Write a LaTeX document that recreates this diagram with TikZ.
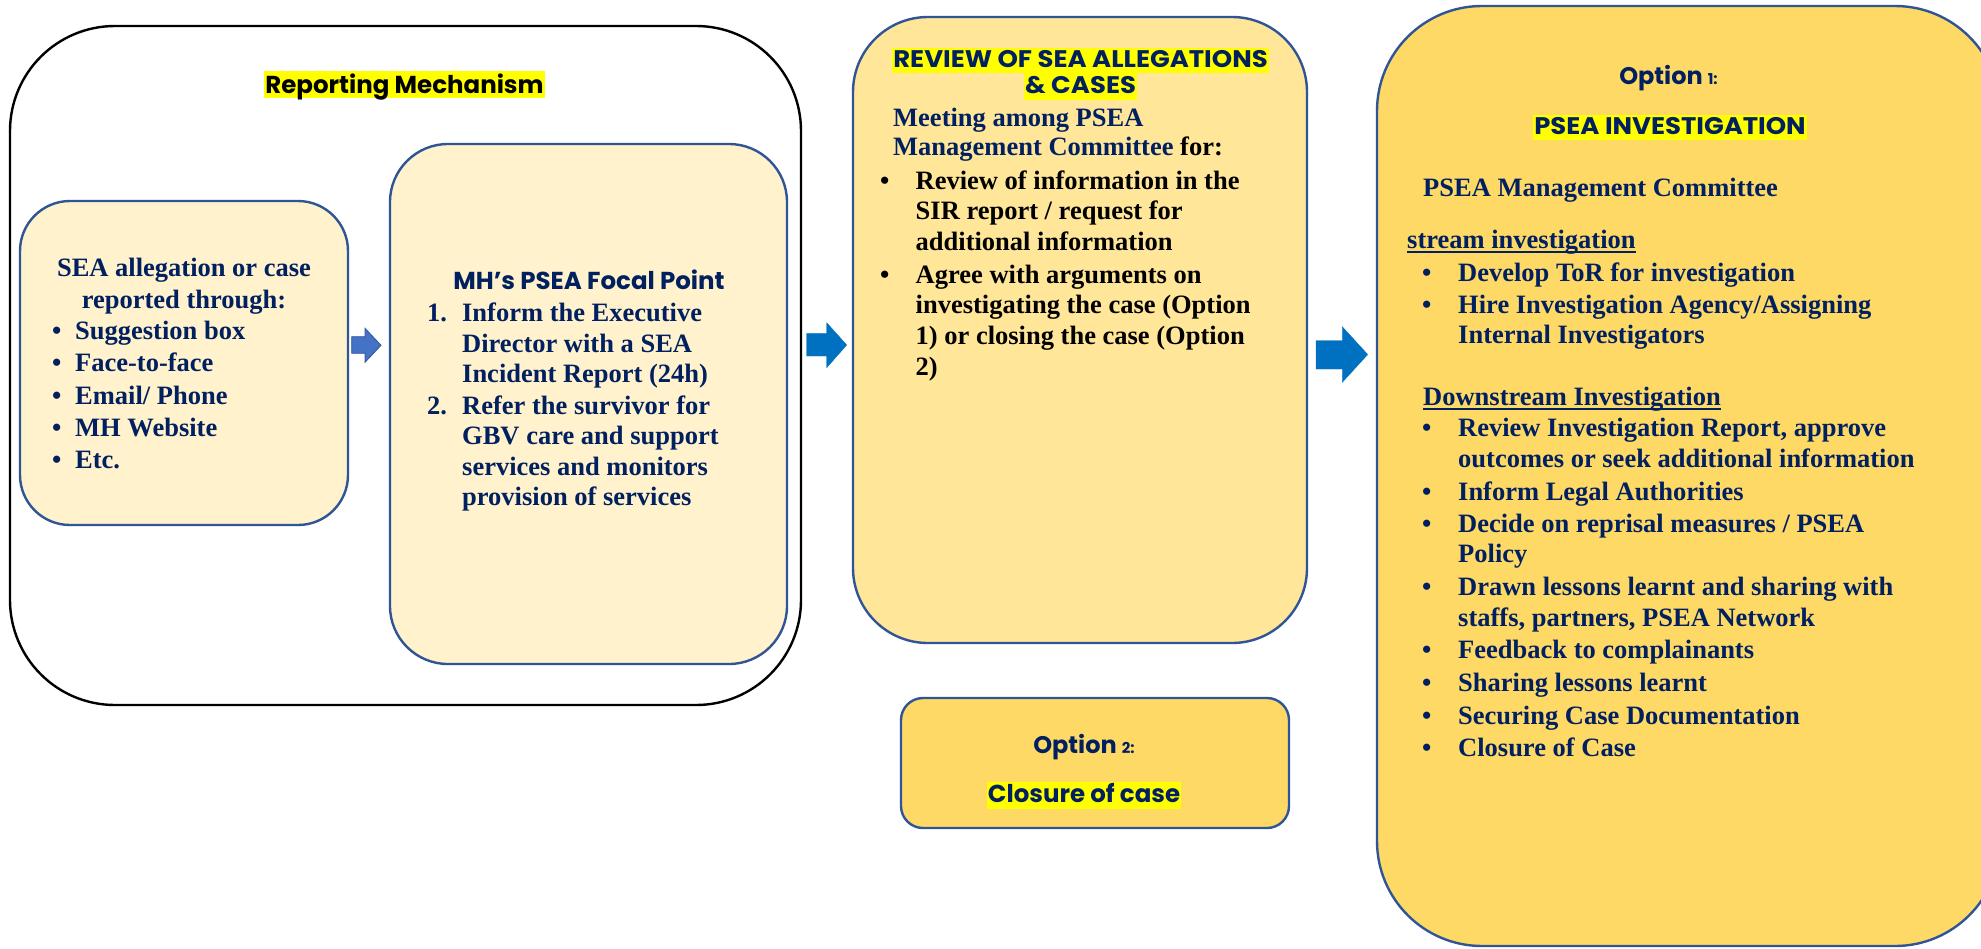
\documentclass[tikz,border=0pt]{standalone}
\usepackage{fontspec}
\setmainfont{Liberation Serif}
\newfontfamily\popfont{Poppins}
\definecolor{navy}{HTML}{002060}
\definecolor{bord}{HTML}{2F5597}
\definecolor{lightY}{HTML}{FFF2CC}
\definecolor{midY}{HTML}{FFE699}
\definecolor{darkY}{HTML}{FFD966}
\definecolor{arrA}{HTML}{4472C4}
\definecolor{arrB}{HTML}{0070C0}
\definecolor{hlY}{HTML}{FFFF00}
\newcommand{\bodyfont}[1][31]{\fontsize{26.5}{#1}\selectfont\bfseries}
\newcommand{\ttlfont}[1]{\popfont\bfseries\fontsize{#1}{#1}\selectfont}
\newcommand{\bul}[1]{\makebox[#1][l]{•}}
\newcommand{\wide}[1]{\scalebox{1.08}[1]{#1}}
\tikzset{
  box/.style={draw=bord, line width=2.4pt},
  txt/.style={inner sep=0pt, text=navy},
  ttl/.style={inner sep=0pt, text=navy, font=\ttlfont{24.5}},
  capttl/.style={inner sep=0pt, text=navy, font=\ttlfont{24}},
  hlbox/.style={fill=hlY, inner xsep=1pt, inner ysep=0pt},
  blockarrow/.style={draw=bord, line width=0.8pt},
  uline/.style={draw=navy, line width=2pt}
}
\begin{document}
\begin{tikzpicture}[x=1pt,y=-1pt]
\useasboundingbox (0,0) rectangle (1981,948);
\fill[white] (0,0) rectangle (1981,948);
\clip (0,0) rectangle (1981,948);

% ---------- boxes ----------
\node[draw=black, line width=2.4pt, fill=white, rounded corners=105pt,
      minimum width=791pt, minimum height=679pt] (outer) at (405.5,365.5) {};
\node[box, fill=lightY, rounded corners=50pt, minimum width=328pt, minimum height=324pt] (sea) at (184,363) {};
\node[box, fill=lightY, rounded corners=58pt, minimum width=397pt, minimum height=520pt] (mh) at (588.5,404) {};
\node[box, fill=midY, rounded corners=75pt, minimum width=454pt, minimum height=626pt] (review) at (1080,330) {};
\node[box, fill=darkY, rounded corners=22pt, minimum width=388pt, minimum height=130pt] (opt2) at (1095,763) {};
\node[box, fill=darkY, rounded corners=105pt, minimum width=623pt, minimum height=940pt] (opt1) at (1688.5,476) {};

% ---------- block arrows ----------
\draw[blockarrow, fill=arrA] (351.7,336.7) -- (365,336.7) -- (365,328.3) -- (381,345.3)
   -- (365,362.3) -- (365,353.3) -- (351.7,353.3) -- cycle;
\draw[blockarrow, draw=arrB, line width=0.3pt, fill=arrB] (806.7,333.3) -- (826.7,333.3) -- (826.7,322.7) -- (846.7,345)
   -- (826.7,367.7) -- (826.7,356) -- (806.7,356) -- cycle;
\draw[blockarrow, draw=arrB, line width=0.3pt, fill=arrB] (1316,340.7) -- (1342.3,340.7) -- (1342.3,326.7) -- (1367.7,354.5)
   -- (1342.3,382.3) -- (1342.3,369) -- (1316,369) -- cycle;

% ---------- Reporting mechanism ----------
\node[ttl, hlbox, text=black, anchor=base, text height=22pt, text depth=5pt] (rmtitle) at (404.5,93) {Reporting Mechanism};

\node[txt, font={\bodyfont[32]}, anchor=base] (seahead) at (184,276)
  {\parbox[t]{320pt}{\centering SEA allegation or case\\reported through:}};
\node[txt, font={\bodyfont[32.3]}, anchor=base west] (sealist) at (52,339.6)
  {\parbox[t]{280pt}{\bul{23pt}Suggestion box\\\bul{23pt}Face-to-face\\\bul{23pt}Email/ Phone\\\bul{23pt}MH Website\\\bul{23pt}Etc.}};

\node[ttl, anchor=base] (mhtitle) at (589,289) {MH’s PSEA Focal Point};
\node[txt, font={\bodyfont[30.5]}, anchor=base west] (mh1) at (427,321.7)
  {\makebox[35pt][l]{1.}\parbox[t]{300pt}{Inform the Executive\\Director with a SEA\\Incident Report (24h)}};
\node[txt, font={\bodyfont[30.5]}, anchor=base west] (mh2) at (427,414)
  {\makebox[35pt][l]{2.}\parbox[t]{300pt}{Refer the survivor for\\GBV care and support\\services and monitors\\provision of services}};

% ---------- Review ----------
\node[capttl, hlbox, anchor=base, text height=19pt, text depth=6pt] (revt1) at (1080.5,67) {\wide{REVIEW OF SEA ALLEGATIONS}};
\node[capttl, hlbox, anchor=base, text height=20pt, text depth=7pt] (revt2) at (1080.5,93) {\wide{\& CASES}};
\node[txt, font={\bodyfont[29]}, anchor=base west] (meet) at (893,126)
  {\parbox[t]{400pt}{Meeting among PSEA\\Management Committee \textcolor{black}{for:}}};
\node[txt, text=black, font={\bodyfont[30.5]}, anchor=base west] (rev1) at (880,189)
  {\bul{35.5pt}\parbox[t]{360pt}{Review of information in the\\SIR report / request for\\additional information}};
\node[txt, text=black, font={\bodyfont[30.7]}, anchor=base west] (rev2) at (880,283)
  {\bul{35.5pt}\parbox[t]{360pt}{Agree with arguments on\\investigating the case (Option\\1) or closing the case (Option\\2)}};

% ---------- Option 2 ----------
\node[ttl, anchor=base] (o2a) at (1084,753) {\fontsize{24}{24}\selectfont Option \fontsize{15}{15}\selectfont 2:};
\node[ttl, hlbox, anchor=base, text height=20pt, text depth=7pt] (o2b) at (1084,802) {Closure of case};

% ---------- Option 1 ----------
\node[ttl, anchor=base] (o1a) at (1668.5,84) {\fontsize{24}{24}\selectfont Option \fontsize{15}{15}\selectfont 1:};
\node[capttl, hlbox, anchor=base, text height=19pt, text depth=6pt] (o1b) at (1670,134) {\wide{PSEA INVESTIGATION}};
\node[txt, font=\bodyfont, anchor=base west] (pmc) at (1423,196) {PSEA Management Committee};
\node[txt, font=\bodyfont, anchor=base west] (up) at (1407,248) {stream investigation};
\draw[uline] ([yshift=-4pt]up.base west) -- ([yshift=-4pt]up.base east);
\node[txt, font={\bodyfont[30]}, anchor=base west] (u1) at (1422,281) {\bul{36pt}Develop ToR for investigation};
\node[txt, font={\bodyfont[30]}, anchor=base west] (u2) at (1422,313) {\bul{36pt}\parbox[t]{480pt}{Hire Investigation Agency/Assigning\\Internal Investigators}};
\node[txt, font=\bodyfont, anchor=base west] (down) at (1423,405) {Downstream Investigation};
\draw[uline] ([yshift=-4pt]down.base west) -- ([yshift=-4pt]down.base east);
\node[txt, font={\bodyfont[31]}, anchor=base west] (d1) at (1422,436) {\bul{36pt}\parbox[t]{500pt}{Review Investigation Report, approve\\outcomes or seek additional information}};
\node[txt, font=\bodyfont, anchor=base west] (d2) at (1422,500) {\bul{36pt}Inform Legal Authorities};
\node[txt, font={\bodyfont[30]}, anchor=base west] (d3) at (1422,532) {\bul{36pt}\parbox[t]{480pt}{Decide on reprisal measures / PSEA\\Policy}};
\node[txt, font={\bodyfont[31]}, anchor=base west] (d4) at (1422,595) {\bul{36pt}\parbox[t]{480pt}{Drawn lessons learnt and sharing with\\staffs, partners, PSEA Network}};
\node[txt, font=\bodyfont, anchor=base west] (d5) at (1422,658) {\bul{36pt}Feedback to complainants};
\node[txt, font=\bodyfont, anchor=base west] (d6) at (1422,691) {\bul{36pt}Sharing lessons learnt};
\node[txt, font=\bodyfont, anchor=base west] (d7) at (1422,724) {\bul{36pt}Securing Case Documentation};
\node[txt, font=\bodyfont, anchor=base west] (d8) at (1422,756) {\bul{36pt}Closure of Case};
\end{tikzpicture}
\end{document}
